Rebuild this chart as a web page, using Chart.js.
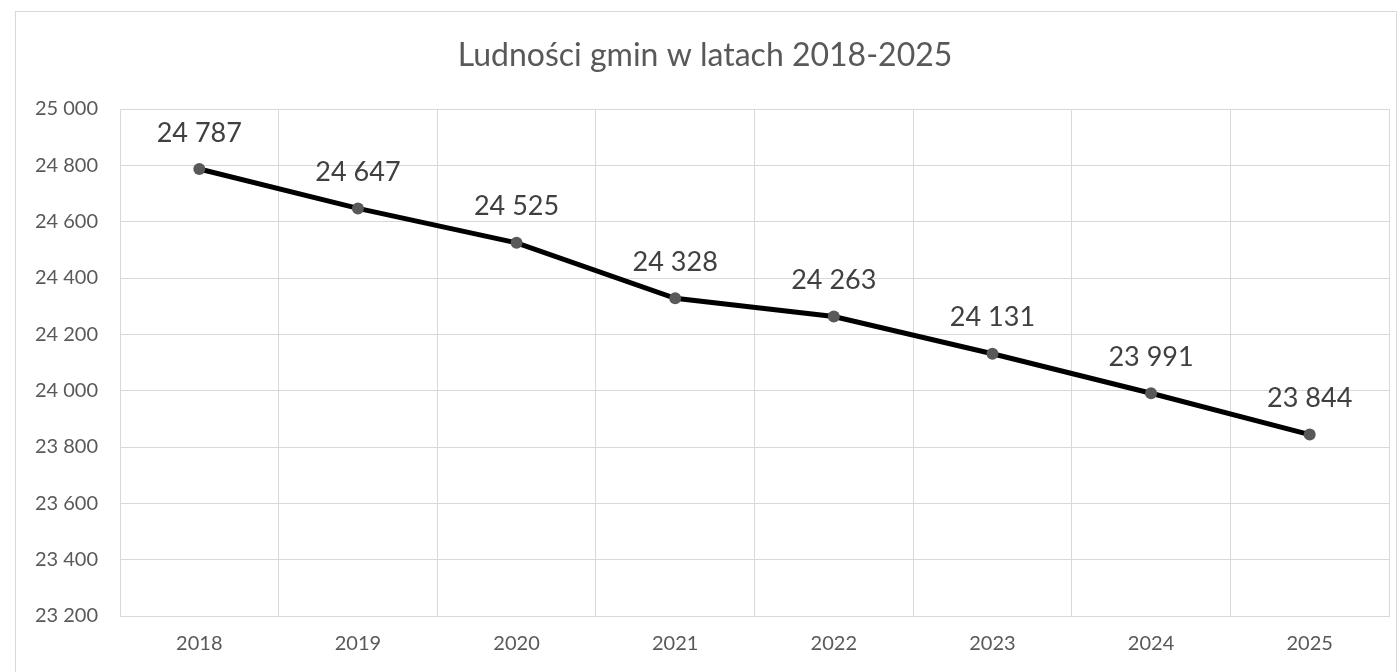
<!DOCTYPE html>
<html lang="pl">
<head>
<meta charset="utf-8">
<title>Ludności gmin w latach 2018-2025</title>
<script src="https://cdn.jsdelivr.net/npm/chart.js@4.4.1/dist/chart.umd.min.js"></script>
<style>
    html, body { margin: 0; padding: 0; background: #ffffff; }
    #wrap { position: relative; width: 1399px; height: 672px; }
</style>
</head>
<body>
<div id="wrap"><canvas id="chart"></canvas></div>
<script>
// Dane wykresu
const years = ['2018', '2019', '2020', '2021', '2022', '2023', '2024', '2025'];
const population = [24787, 24647, 24525, 24328, 24263, 24131, 23991, 23844];
const yMin = 23200;
const yMax = 25000;
const yStep = 200;

const FONT = 'Lato, "Open Sans", sans-serif';

// Format "24 787" (spacja jako separator tysięcy)
function fmt(v) {
    return String(v).replace(/\B(?=(\d{3})+(?!\d))/g, ' ');
}

// Ramka wokół całego wykresu
const frame = {
    id: 'frame',
    beforeDraw(chart) {
        const c = chart.ctx;
        c.save();
        c.fillStyle = '#ffffff';
        c.fillRect(0, 0, chart.width, chart.height);
        c.strokeStyle = '#d9d9d9';
        c.lineWidth = 1;
        c.strokeRect(15.5, 11.5, 1381, 700);
        c.restore();
    }
};

// Etykiety wartości nad punktami
const valueLabels = {
    id: 'valueLabels',
    afterDatasetsDraw(chart) {
        const c = chart.ctx;
        const meta = chart.getDatasetMeta(0);
        c.save();
        c.font = '27px ' + FONT;
        c.fillStyle = '#404040';
        c.textAlign = 'center';
        c.textBaseline = 'middle';
        meta.data.forEach((pt, i) => {
            c.fillText(fmt(population[i]), pt.x, pt.y - 36);
        });
        c.restore();
    }
};

const ctx = document.getElementById('chart').getContext('2d');
new Chart(ctx, {
    type: 'line',
    data: {
        labels: years,
        datasets: [{
            data: population,
            borderColor: '#000000',
            borderWidth: 5,
            pointRadius: 6,
            pointHoverRadius: 6,
            pointBackgroundColor: '#595959',
            pointBorderWidth: 0,
            tension: 0
        }]
    },
    options: {
        responsive: true,
        maintainAspectRatio: false,
        animation: false,
        layout: { padding: { left: 21, right: 10, top: 0, bottom: 0 } },
        plugins: {
            legend: { display: false },
            tooltip: { enabled: false },
            title: {
                display: true,
                text: 'Ludności gmin w latach 2018-2025',
                color: '#595959',
                font: { family: FONT, size: 32, weight: 'normal', lineHeight: 1.2 },
                padding: { top: 36, bottom: 34.6 }
            }
        },
        scales: {
            x: {
                offset: true,
                grid: { offset: true, color: '#d9d9d9', drawTicks: false },
                border: { color: '#d9d9d9' },
                ticks: {
                    color: '#595959',
                    font: { family: FONT, size: 20 },
                    padding: 16,
                    maxRotation: 0
                },
                afterFit(scale) { scale.height = 56; }
            },
            y: {
                min: yMin,
                max: yMax,
                grid: { color: '#d9d9d9', drawTicks: false },
                border: { display: false },
                ticks: {
                    stepSize: yStep,
                    color: '#595959',
                    font: { family: FONT, size: 20 },
                    padding: 22,
                    callback: (v) => fmt(v)
                },
                afterFit(scale) { scale.width = 99; }
            }
        }
    },
    plugins: [frame, valueLabels]
});
</script>
</body>
</html>
